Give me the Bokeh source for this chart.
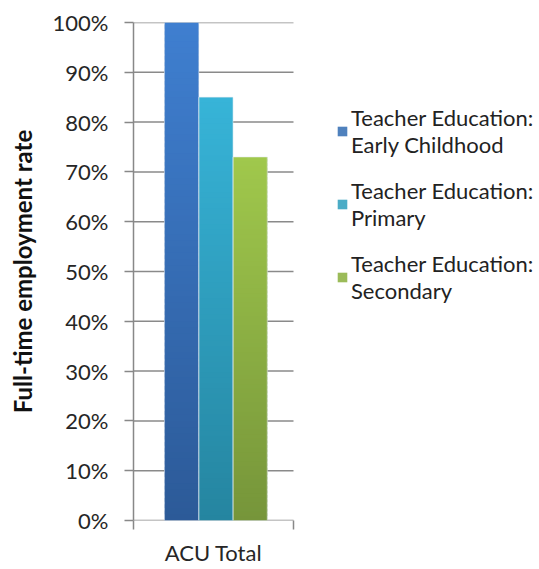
from bokeh.plotting import figure
from bokeh.models import (Range1d, FixedTicker, NumeralTickFormatter, LinearAxis,
                          ColumnDataSource, Legend, LegendItem)
from bokeh.embed import file_html
from bokeh.resources import INLINE

categories = ["ACU Total"]
series = ["Teacher Education:\nEarly Childhood",
          "Teacher Education:\nPrimary",
          "Teacher Education:\nSecondary"]
values = [1.00, 0.85, 0.73]
y_ticks = [0, 0.1, 0.2, 0.3, 0.4, 0.5, 0.6, 0.7, 0.8, 0.9, 1.0]

legend_colors = ["#4F81BD", "#4BACC6", "#9BBB59"]
top_colors = ["#3F7FD0", "#37B4D8", "#A0C84C"]
bottom_colors = ["#2C5A98", "#2585A0", "#76953A"]

FONT = "Lato"
W, H = 535, 568
LEFT = 133          # left border (px)
CAT_PX = 160        # width of the category band (px)
frame_w = W - LEFT
x_end = len(categories) * frame_w / CAT_PX

p = figure(width=W, height=H, output_backend="svg", toolbar_location=None,
           x_range=Range1d(0, x_end), y_range=Range1d(0, 1),
           x_axis_type=None, y_axis_type=None,
           min_border_left=LEFT, min_border_right=0,
           min_border_top=22, min_border_bottom=45)
p.outline_line_color = None
p.background_fill_color = "white"
p.border_fill_color = "white"
p.xgrid.grid_line_color = None
p.ygrid.grid_line_color = None

# y axis
yax = LinearAxis(ticker=FixedTicker(ticks=y_ticks, minor_ticks=[]),
                 formatter=NumeralTickFormatter(format="0%"))
yax.axis_line_color = "#888888"
yax.axis_line_width = 1.5
yax.major_tick_line_color = "#888888"
yax.major_tick_line_width = 1.5
yax.major_tick_out = 9
yax.major_tick_in = 0
yax.major_label_standoff = 16
yax.major_label_text_font = FONT
yax.major_label_text_font_size = "22px"
yax.major_label_text_color = "#262626"
yax.axis_label = "Full-time employment rate"
yax.axis_label_text_font = FONT
yax.axis_label_text_font_style = "bold"
yax.axis_label_text_font_size = "24px"
yax.axis_label_text_color = "#111111"
yax.axis_label_standoff = 13
p.add_layout(yax, "left")

# x axis: label at category centre, ticks at category edges
centers = [i + 0.5 for i in range(len(categories))]
edges = [float(i) for i in range(len(categories) + 1)]
xax = LinearAxis(ticker=FixedTicker(ticks=centers, minor_ticks=edges),
                 major_label_overrides={c: cat for c, cat in zip(centers, categories)})
xax.axis_line_color = None
xax.major_tick_line_color = None
xax.major_tick_out = 0
xax.major_tick_in = 0
xax.minor_tick_line_color = "#888888"
xax.minor_tick_line_width = 1.5
xax.minor_tick_out = 9
xax.minor_tick_in = 0
xax.major_label_standoff = 9
xax.major_label_text_font = FONT
xax.major_label_text_font_size = "22px"
xax.major_label_text_color = "#262626"
p.add_layout(xax, "below")

# horizontal gridlines across the category band only
p.segment(x0=[0] * len(y_ticks), x1=[len(categories)] * len(y_ticks),
          y0=y_ticks, y1=y_ticks, line_color="#8a8a8a", line_width=1.5)

# bars
bw = 0.214
group_shift = 0.015
offsets = [-bw, 0.0, bw]
N = 80

# solid base bars (also used as legend swatches)
base_renderers = []
for si, v in enumerate(values):
    r = p.vbar(x=[c + group_shift + offsets[si] for c in centers], top=[v] * len(centers),
               width=bw, fill_color=legend_colors[si], line_color=None)
    base_renderers.append(r)


def mix(c1, c2, t):
    a = [int(c1[i:i + 2], 16) for i in (1, 3, 5)]
    b = [int(c2[i:i + 2], 16) for i in (1, 3, 5)]
    return "#%02x%02x%02x" % tuple(int(round(a[k] + (b[k] - a[k]) * t)) for k in range(3))


# vertical gradient shading (thin overlapping slices)
xs, bots, tops, cols = [], [], [], []
for c in centers:
    for si, v in enumerate(values):
        for k in range(N):
            xs.append(c + group_shift + offsets[si])
            bots.append(v * k / N)
            tops.append(min(v, v * (k + 1.6) / N))
            cols.append(mix(bottom_colors[si], top_colors[si], (k + 0.5) / N))
src = ColumnDataSource(dict(x=xs, bottom=bots, top=tops, color=cols))
p.vbar(x="x", bottom="bottom", top="top", width=bw, source=src,
       fill_color="color", line_color=None)

# thin light outline
p.vbar(x=[c + group_shift + o for c in centers for o in offsets], top=values * len(centers),
       width=bw, fill_alpha=0, line_color="#e4ecf2", line_width=0.8, line_alpha=0.7)

# legend
items = [LegendItem(label=s, renderers=[r]) for s, r in zip(series, base_renderers)]
legend = Legend(items=items, location=(203, 216))
legend.border_line_color = None
legend.background_fill_alpha = 0
legend.label_text_font = FONT
legend.label_text_font_size = "22px"
legend.label_text_color = "#222222"
legend.glyph_width = 12
legend.glyph_height = 12
legend.label_standoff = 3
legend.spacing = 19
legend.padding = 0
legend.margin = 0
p.add_layout(legend, "center")

open("out.html", "w").write(file_html(p, INLINE))
